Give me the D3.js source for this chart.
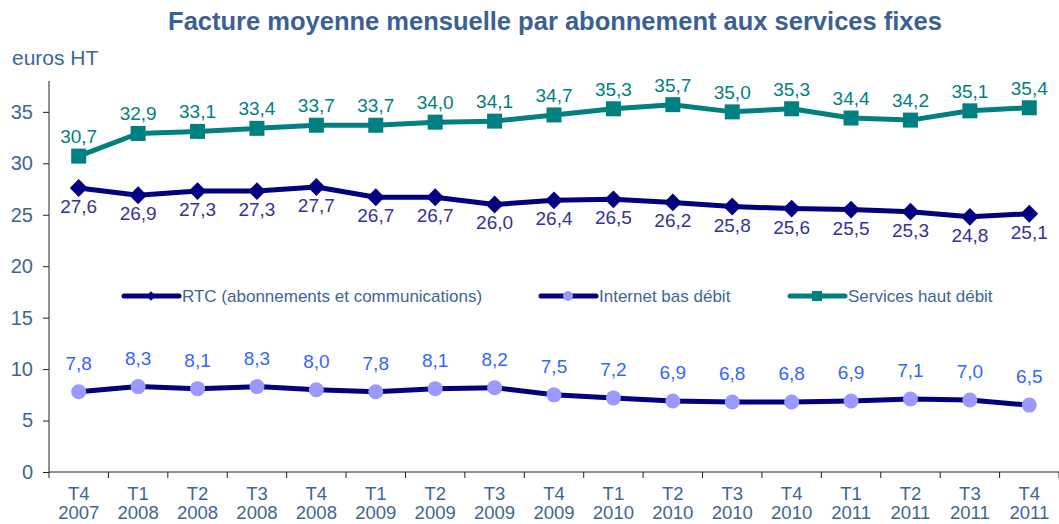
<!DOCTYPE html>
<html>
<head>
<meta charset="utf-8">
<script src="https://cdn.jsdelivr.net/npm/d3@7"></script>
<style>
  body { margin: 0; background: #fff; }
  text { font-family: "Liberation Sans", Arial, sans-serif; }
</style>
</head>
<body>
<svg id="chart"></svg>
<script>
// Chart data.
const quarters = ["T4", "T1", "T2", "T3", "T4", "T1", "T2", "T3", "T4", "T1", "T2", "T3", "T4", "T1", "T2", "T3", "T4"];
const years = ["2007", "2008", "2008", "2008", "2008", "2009", "2009", "2009", "2009", "2010", "2010", "2010", "2010", "2011", "2011", "2011", "2011"];
const rtc = [27.6, 26.9, 27.3, 27.3, 27.7, 26.7, 26.7, 26.0, 26.4, 26.5, 26.2, 25.8, 25.6, 25.5, 25.3, 24.8, 25.1];
const internetBas = [7.8, 8.3, 8.1, 8.3, 8.0, 7.8, 8.1, 8.2, 7.5, 7.2, 6.9, 6.8, 6.8, 6.9, 7.1, 7.0, 6.5];
const hautDebit = [30.7, 32.9, 33.1, 33.4, 33.7, 33.7, 34.0, 34.1, 34.7, 35.3, 35.7, 35.0, 35.3, 34.4, 34.2, 35.1, 35.4];
const yTicks = [0, 5, 10, 15, 20, 25, 30, 35];

const width = 1059, height = 524;
const plotLeft = 49, plotRight = 1059, plotTop = 81, plotBottom = 472;
const axisColor = "#3d6697";

const svg = d3.select("#chart").attr("width", width).attr("height", height);

const x = d3.scaleBand().domain(d3.range(quarters.length)).range([plotLeft, plotRight]);
const y = d3.scaleLinear().domain([0, 38]).range([plotBottom, plotTop]);
const cx = i => x(i) + x.bandwidth() / 2;
const fmt = v => v.toFixed(1).replace(".", ",");

// Title and unit
svg.append("text")
    .attr("x", 555).attr("y", 30)
    .attr("text-anchor", "middle")
    .attr("font-size", 25.5).attr("font-weight", "bold")
    .attr("fill", "#3a6194")
    .text("Facture moyenne mensuelle par abonnement aux services fixes");

svg.append("text")
    .attr("x", 12).attr("y", 65)
    .attr("font-size", 21).attr("fill", axisColor)
    .text("euros HT");

// Y axis
const yAxis = svg.append("g")
    .attr("transform", `translate(${plotLeft},0)`)
    .call(d3.axisLeft(y).tickValues(yTicks).tickSize(6).tickPadding(10));
yAxis.select(".domain").attr("stroke", "#222").attr("d", `M0,${plotTop}V${plotBottom}`);
yAxis.selectAll(".tick line").attr("stroke", "#222");
yAxis.selectAll(".tick text").attr("font-size", 20).attr("fill", axisColor)
    .attr("font-family", "Liberation Sans, Arial, sans-serif");

// X axis: labels centered in bands, ticks at band edges
svg.append("line")
    .attr("x1", plotLeft).attr("x2", plotRight)
    .attr("y1", plotBottom).attr("y2", plotBottom)
    .attr("stroke", "#222");
svg.selectAll(".xtick")
    .data(d3.range(quarters.length + 1))
    .join("line")
    .attr("class", "xtick")
    .attr("x1", i => plotLeft + i * x.step()).attr("x2", i => plotLeft + i * x.step())
    .attr("y1", plotBottom).attr("y2", plotBottom + 6)
    .attr("stroke", "#222");
const xl = svg.selectAll(".xlab")
    .data(quarters)
    .join("text")
    .attr("class", "xlab")
    .attr("text-anchor", "middle")
    .attr("font-size", 18.5).attr("fill", axisColor);
xl.append("tspan").attr("x", (d, i) => cx(i)).attr("y", 500).text(d => d);
xl.append("tspan").attr("x", (d, i) => cx(i)).attr("y", 519).text((d, i) => years[i]);

const line = d3.line().x((d, i) => cx(i)).y(d => y(d));

const series = [
    { name: "RTC (abonnements et communications)", values: rtc, stroke: "#000080", marker: "diamond", fill: "#000080", labelColor: "#333399", dy: 25 },
    { name: "Internet bas débit", values: internetBas, stroke: "#000080", marker: "circle", fill: "#9999ff", labelColor: "#3366ff", dy: -22 },
    { name: "Services haut débit", values: hautDebit, stroke: "#008080", marker: "square", fill: "#008080", labelColor: "#008080", dy: -13 }
];

function drawMarker(g, type, fill, size) {
    if (type === "diamond") {
        g.append("path").attr("d", d3.symbol(d3.symbolDiamond2, size * size * 0.9)())
            .attr("fill", fill);
    } else if (type === "circle") {
        g.append("circle").attr("r", size / 2).attr("fill", fill);
    } else {
        g.append("rect").attr("x", -size / 2).attr("y", -size / 2)
            .attr("width", size).attr("height", size).attr("fill", fill);
    }
}

series.forEach(s => {
    svg.append("path")
        .datum(s.values)
        .attr("d", line)
        .attr("fill", "none")
        .attr("stroke", s.stroke)
        .attr("stroke-width", 5)
        .attr("stroke-linejoin", "round");

    svg.selectAll(null)
        .data(s.values)
        .join("g")
        .attr("transform", (d, i) => `translate(${cx(i)},${y(d)})`)
        .each(function () { drawMarker(d3.select(this), s.marker, s.fill, 15); });

    svg.selectAll(null)
        .data(s.values)
        .join("text")
        .attr("x", (d, i) => cx(i))
        .attr("y", d => y(d) + s.dy)
        .attr("text-anchor", "middle")
        .attr("font-size", 19)
        .attr("fill", s.labelColor)
        .text(fmt);
});

// Legend
const legendX = [124, 541, 790];
series.forEach((s, k) => {
    const g = svg.append("g").attr("transform", `translate(${legendX[k]},296)`);
    g.append("line").attr("x1", 0).attr("x2", 55).attr("y1", 0).attr("y2", 0)
        .attr("stroke", s.stroke).attr("stroke-width", 5).attr("stroke-linecap", "round");
    const m = g.append("g").attr("transform", "translate(27,0)");
    drawMarker(m, s.marker, s.fill, s.marker === "diamond" ? 8 : 10);
    g.append("text").attr("x", 58).attr("y", 6)
        .attr("font-size", 17).attr("fill", axisColor)
        .text(s.name);
});
</script>
</body>
</html>
